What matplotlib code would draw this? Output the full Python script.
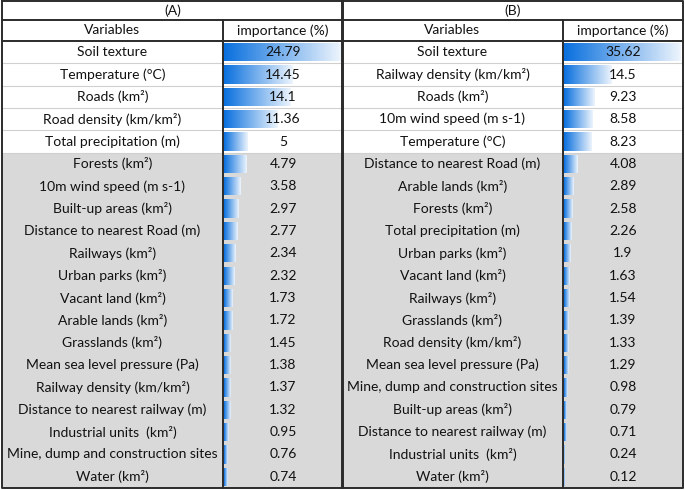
import numpy as np
import matplotlib
matplotlib.use("Agg")
from matplotlib import pyplot as plt

# ===================================================================
# Data
# ===================================================================
panel_titles = ["(A)", "(B)"]
col_headers = ["Variables", "importance (%)"]

vars_a = ["Soil texture", "Temperature (°C)", "Roads (km²)", "Road density (km/km²)",
          "Total precipitation (m)", "Forests (km²)", "10m wind speed (m s-1)",
          "Built-up areas (km²)", "Distance to nearest Road (m)", "Railways (km²)",
          "Urban parks (km²)", "Vacant land (km²)", "Arable lands (km²)",
          "Grasslands (km²)", "Mean sea level pressure (Pa)", "Railway density (km/km²)",
          "Distance to nearest railway (m)", "Industrial units  (km²)",
          "Mine, dump and construction sites", "Water (km²)"]
imp_a = [24.79, 14.45, 14.1, 11.36, 5, 4.79, 3.58, 2.97, 2.77, 2.34,
         2.32, 1.73, 1.72, 1.45, 1.38, 1.37, 1.32, 0.95, 0.76, 0.74]
labels_a = ["24.79", "14.45", "14.1", "11.36", "5", "4.79", "3.58", "2.97", "2.77", "2.34",
            "2.32", "1.73", "1.72", "1.45", "1.38", "1.37", "1.32", "0.95", "0.76", "0.74"]

vars_b = ["Soil texture", "Railway density (km/km²)", "Roads (km²)", "10m wind speed (m s-1)",
          "Temperature (°C)", "Distance to nearest Road (m)", "Arable lands (km²)",
          "Forests (km²)", "Total precipitation (m)", "Urban parks (km²)",
          "Vacant land (km²)", "Railways (km²)", "Grasslands (km²)",
          "Road density (km/km²)", "Mean sea level pressure (Pa)",
          "Mine, dump and construction sites", "Built-up areas (km²)",
          "Distance to nearest railway (m)", "Industrial units  (km²)", "Water (km²)"]
imp_b = [35.62, 14.5, 9.23, 8.58, 8.23, 4.08, 2.89, 2.58, 2.26, 1.9,
         1.63, 1.54, 1.39, 1.33, 1.29, 0.98, 0.79, 0.71, 0.24, 0.12]
labels_b = ["35.62", "14.5", "9.23", "8.58", "8.23", "4.08", "2.89", "2.58", "2.26", "1.9",
            "1.63", "1.54", "1.39", "1.33", "1.29", "0.98", "0.79", "0.71", "0.24", "0.12"]

n_top = 5  # highlighted (white) rows

# ===================================================================
# Layout (pixel units)
# ===================================================================
W, H = 685, 490
panel_x = [2, 342]
panel_w = 341
var_w = 221
y_top, y_head, y_data, y_bot = 1, 20, 41, 488
row_h = (y_bot - y_data) / len(vars_a)

plt.rcParams["font.family"] = ["Lato", "DejaVu Sans"]
txt_col = "#111111"
fs = 10

fig = plt.figure(figsize=(W / 100, H / 100), dpi=100)
ax = fig.add_axes([0, 0, 1, 1])
ax.set_xlim(0, W)
ax.set_ylim(H, 0)
ax.axis("off")

cmap = matplotlib.colors.LinearSegmentedColormap.from_list("bar", ["#0a70de", "#ffffff"])
grad = np.linspace(0, 1, 256).reshape(1, -1)


def draw_panel(x0, title, names, vals, labels):
    xd = x0 + var_w
    x1 = x0 + panel_w
    y_rows = y_data + row_h * np.arange(len(names))
    # gray background for the lower rows
    ax.add_patch(plt.Rectangle((x0, y_data + n_top * row_h), panel_w,
                               y_bot - (y_data + n_top * row_h),
                               facecolor="#d9d9d9", edgecolor="none", zorder=0))
    # light separators in the top rows
    for i in range(1, n_top + 1):
        ax.plot([x0, x1], [y_data + i * row_h] * 2, color="#d0d0d0", lw=0.8, zorder=1)
    # data bars
    span = x1 - xd - 3
    widths = np.array(vals) / max(vals) * span
    bars = ax.barh(y_rows + row_h / 2, widths, height=row_h - 4, left=xd + 1.5,
                   facecolor="none", edgecolor="none", zorder=2)
    for b in bars:
        bx, by = b.get_x(), b.get_y()
        bw, bh = b.get_width(), b.get_height()
        im = ax.imshow(grad, cmap=cmap, aspect="auto", vmin=0, vmax=1.08,
                       extent=[bx, bx + bw, by + bh, by], zorder=2, interpolation="bilinear")
        im.set_clip_path(b)
    # texts
    for yr, nm, lb in zip(y_rows, names, labels):
        ax.text(x0 + var_w / 2, yr + row_h / 2, nm, ha="center", va="center",
                fontsize=fs, color=txt_col, zorder=3)
        ax.text((xd + x1) / 2, yr + row_h / 2, lb, ha="center", va="center",
                fontsize=fs, color=txt_col, zorder=3)
    ax.text((x0 + x1) / 2, (y_top + y_head) / 2, title, ha="center", va="center",
            fontsize=fs, color=txt_col)
    ax.text(x0 + var_w / 2, (y_head + y_data) / 2, col_headers[0], ha="center",
            va="center", fontsize=fs, color=txt_col)
    ax.text((xd + x1) / 2, (y_head + y_data) / 2, col_headers[1], ha="center",
            va="center", fontsize=fs, color=txt_col)
    # borders
    lc, lw = "#2b2b2b", 1.4
    ax.plot([x0, x1, x1, x0, x0], [y_top, y_top, y_bot, y_bot, y_top], color=lc, lw=lw, zorder=4)
    ax.plot([x0, x1], [y_head] * 2, color=lc, lw=lw, zorder=4)
    ax.plot([x0, x1], [y_data] * 2, color=lc, lw=lw, zorder=4)
    ax.plot([xd, xd], [y_head, y_bot], color=lc, lw=lw, zorder=4)


draw_panel(panel_x[0], panel_titles[0], vars_a, imp_a, labels_a)
draw_panel(panel_x[1], panel_titles[1], vars_b, imp_b, labels_b)

fig.savefig("out.png", dpi=100)
